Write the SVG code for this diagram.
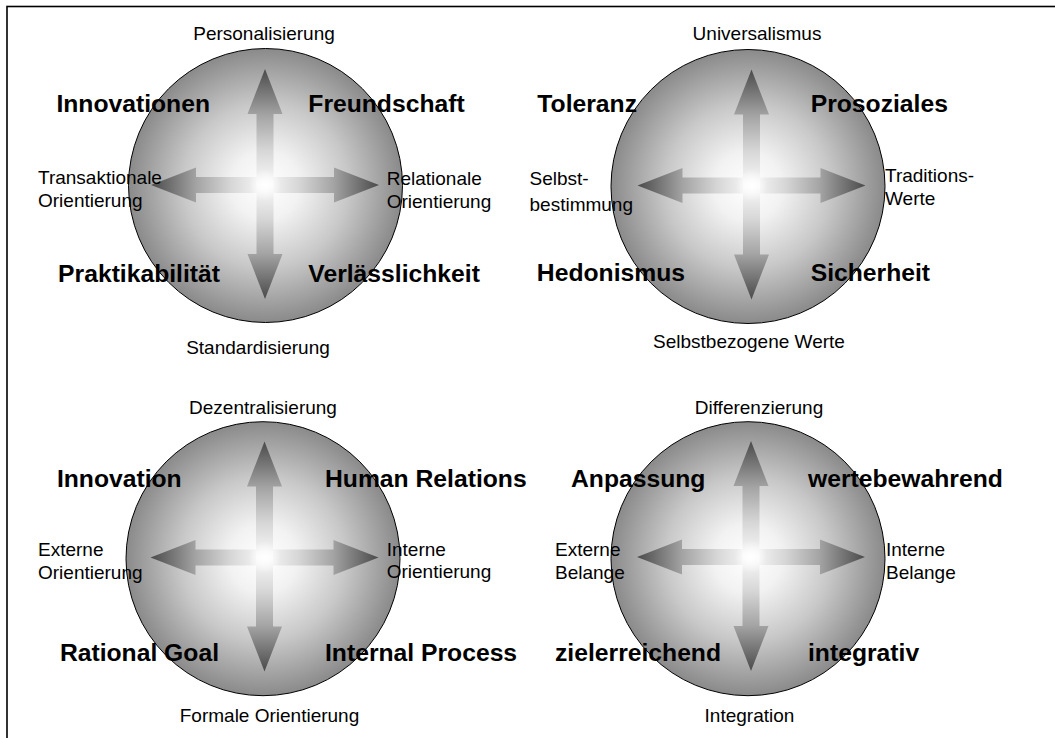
<svg xmlns="http://www.w3.org/2000/svg" width="1055" height="738" viewBox="0 0 1055 738">
<style>
.reg{font-family:"Liberation Sans",Arial,sans-serif;font-size:19px;fill:#000}
.bold{font-family:"Liberation Sans",Arial,sans-serif;font-size:24.7px;font-weight:bold;fill:#000}
.mid{text-anchor:middle}
.end{text-anchor:end}
.disc{fill:url(#ball);stroke:#000;stroke-width:1}
</style>
<defs>
<radialGradient id="ball" cx="0.5" cy="0.5" r="0.5">
<stop offset="0" stop-color="#ffffff"/>
<stop offset="0.25" stop-color="#f2f2f2"/>
<stop offset="0.6" stop-color="#c8c8c8"/>
<stop offset="1" stop-color="#8a8a8a"/>
</radialGradient>
<radialGradient id="glow" cx="0.5" cy="0.5" r="0.5">
<stop offset="0" stop-color="#ffffff" stop-opacity="1"/>
<stop offset="1" stop-color="#ffffff" stop-opacity="0"/>
</radialGradient>
<linearGradient id="gR" x1="0" y1="0" x2="1" y2="0">
<stop offset="0" stop-color="#fafafa"/>
<stop offset="0.3" stop-color="#d6d6d6"/>
<stop offset="0.6" stop-color="#a4a4a4"/>
<stop offset="1" stop-color="#4a4a4a"/>
</linearGradient>
<linearGradient id="gL" x1="1" y1="0" x2="0" y2="0">
<stop offset="0" stop-color="#fafafa"/>
<stop offset="0.3" stop-color="#d6d6d6"/>
<stop offset="0.6" stop-color="#a4a4a4"/>
<stop offset="1" stop-color="#4a4a4a"/>
</linearGradient>
<linearGradient id="gD" x1="0" y1="0" x2="0" y2="1">
<stop offset="0" stop-color="#fafafa"/>
<stop offset="0.3" stop-color="#d6d6d6"/>
<stop offset="0.6" stop-color="#a4a4a4"/>
<stop offset="1" stop-color="#4a4a4a"/>
</linearGradient>
<linearGradient id="gU" x1="0" y1="1" x2="0" y2="0">
<stop offset="0" stop-color="#fafafa"/>
<stop offset="0.3" stop-color="#d6d6d6"/>
<stop offset="0.6" stop-color="#a4a4a4"/>
<stop offset="1" stop-color="#4a4a4a"/>
</linearGradient>
<g id="cross">
<polygon fill="url(#gR)" points="0,-8 69,-8 69,-17.5 114,0 69,17.5 69,8 0,8"/>
<polygon fill="url(#gL)" points="0,-8 -69,-8 -69,-17.5 -114,0 -69,17.5 -69,8 0,8"/>
<polygon fill="url(#gD)" points="-8.5,0 -8.5,69 -17.5,69 0,114 17.5,69 8.5,69 8.5,0"/>
<polygon fill="url(#gU)" points="-8.5,0 -8.5,-71 -17.5,-71 0,-116 17.5,-71 8.5,-71 8.5,0"/>
<circle r="16" fill="url(#glow)"/>
</g>
</defs>
<rect x="7" y="6.5" width="1100" height="800" fill="#ffffff" stroke="#000" stroke-width="1.6"/>

<g id="model-beziehung">
<circle class="disc" cx="265.5" cy="185.5" r="137"/>
<use href="#cross" x="265" y="185"/>
<text class="reg mid" x="264" y="40">Personalisierung</text>
<text class="reg mid" x="258" y="353.5">Standardisierung</text>
<text class="reg" x="38" y="184">Transaktionale</text>
<text class="reg" x="38" y="207">Orientierung</text>
<text class="reg" x="386.7" y="185">Relationale</text>
<text class="reg" x="386.7" y="207.5">Orientierung</text>
<text class="bold end" x="210" y="112">Innovationen</text>
<text class="bold" x="308.3" y="112">Freundschaft</text>
<text class="bold end" x="220" y="282">Praktikabilität</text>
<text class="bold" x="308.3" y="282">Verlässlichkeit</text>
</g>

<g id="model-werte">
<circle class="disc" cx="748" cy="186.5" r="137"/>
<use href="#cross" x="751.5" y="185.5"/>
<text class="reg mid" x="757" y="40">Universalismus</text>
<text class="reg mid" x="749" y="347.5">Selbstbezogene Werte</text>
<text class="reg" x="529.5" y="185">Selbst-</text>
<text class="reg" x="529.5" y="211">bestimmung</text>
<text class="reg" x="885" y="181.5">Traditions-</text>
<text class="reg" x="885" y="205">Werte</text>
<text class="bold end" x="637" y="112">Toleranz</text>
<text class="bold" x="810.7" y="112">Prosoziales</text>
<text class="bold end" x="685" y="281">Hedonismus</text>
<text class="bold" x="810.7" y="281">Sicherheit</text>
</g>

<g id="model-competing-values">
<circle class="disc" cx="263" cy="558.7" r="137"/>
<use href="#cross" x="264.5" y="557.5"/>
<text class="reg mid" x="263" y="413.5">Dezentralisierung</text>
<text class="reg mid" x="269.5" y="722">Formale Orientierung</text>
<text class="reg" x="38" y="556">Externe</text>
<text class="reg" x="38" y="579">Orientierung</text>
<text class="reg" x="386.7" y="555.7">Interne</text>
<text class="reg" x="386.7" y="578">Orientierung</text>
<text class="bold end" x="181.7" y="487">Innovation</text>
<text class="bold" x="325" y="487">Human Relations</text>
<text class="bold end" x="219" y="661">Rational Goal</text>
<text class="bold" x="325" y="661">Internal Process</text>
</g>

<g id="model-agil">
<circle class="disc" cx="748" cy="558.7" r="137"/>
<use href="#cross" x="751" y="557"/>
<text class="reg mid" x="759" y="414">Differenzierung</text>
<text class="reg mid" x="749.5" y="722">Integration</text>
<text class="reg" x="555" y="556">Externe</text>
<text class="reg" x="555" y="579">Belange</text>
<text class="reg" x="886" y="556">Interne</text>
<text class="reg" x="886" y="579">Belange</text>
<text class="bold" x="571" y="487">Anpassung</text>
<text class="bold" x="808" y="487">wertebewahrend</text>
<text class="bold" x="555" y="661">zielerreichend</text>
<text class="bold" x="808" y="661">integrativ</text>
</g>

<g id="connectors"></g>
</svg>
